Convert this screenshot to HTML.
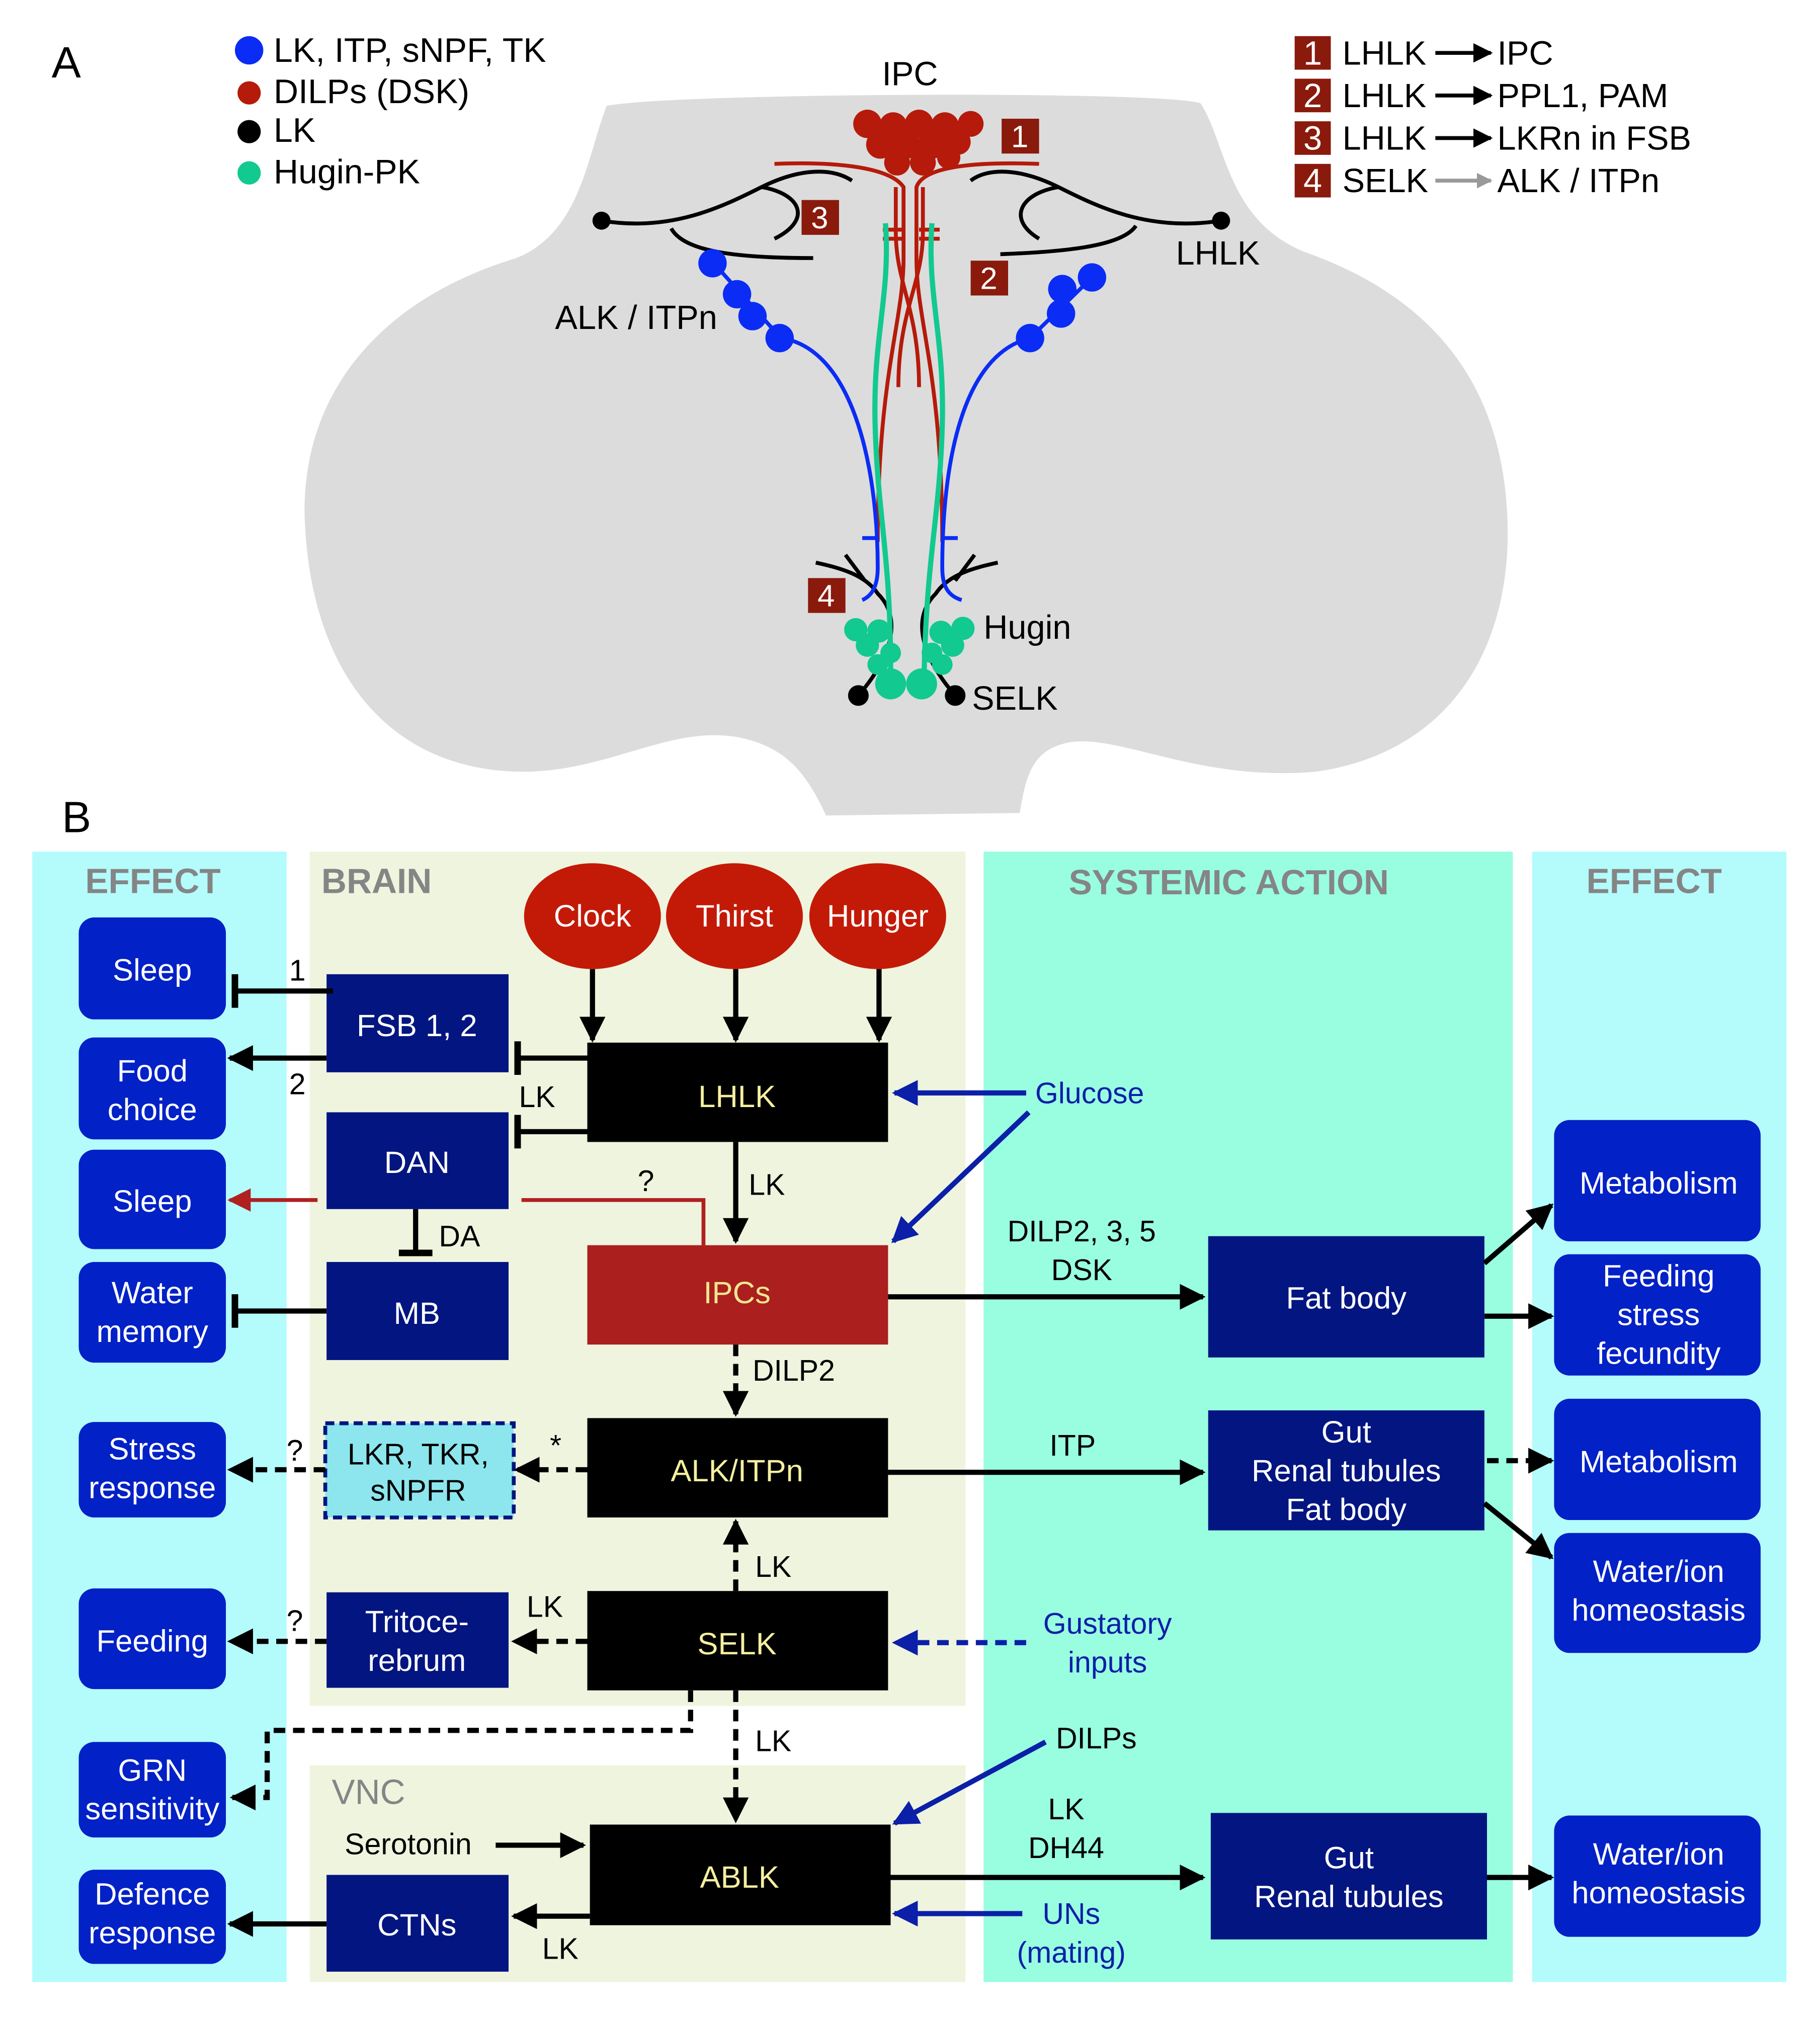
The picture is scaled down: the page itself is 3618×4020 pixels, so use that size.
<!DOCTYPE html>
<html><head><meta charset="utf-8"><style>
html,body{margin:0;padding:0;background:#fff}
svg{display:block}
text{font-family:"Liberation Sans",Arial,sans-serif}
</style></head><body>
<svg width="3618" height="4020" viewBox="0 0 1410 1567" preserveAspectRatio="none" xmlns="http://www.w3.org/2000/svg">
<defs>
<marker id="ab" viewBox="0 0 10 10" refX="9" refY="5" markerWidth="5" markerHeight="5" orient="auto-start-reverse" markerUnits="strokeWidth"><path d="M0,0L10,5L0,10z" fill="#000"/></marker>
<marker id="abl" viewBox="0 0 10 10" refX="9" refY="5" markerWidth="5" markerHeight="5" orient="auto" markerUnits="strokeWidth"><path d="M0,0L10,5L0,10z" fill="#0b1fa8"/></marker>
<marker id="ar" viewBox="0 0 10 10" refX="9" refY="5" markerWidth="6" markerHeight="6" orient="auto" markerUnits="strokeWidth"><path d="M0,0L10,5L0,10z" fill="#b02020"/></marker>
<marker id="ag" viewBox="0 0 10 10" refX="9" refY="5" markerWidth="4" markerHeight="4" orient="auto" markerUnits="strokeWidth"><path d="M0,0L10,5L0,10z" fill="#999"/></marker>
<marker id="tb" viewBox="0 0 4 20" refX="2" refY="10" markerWidth="1.3" markerHeight="7" orient="auto" markerUnits="strokeWidth"><rect x="0" y="0" width="4" height="20" fill="#000"/></marker>
</defs>
<rect width="1410" height="1567" fill="#fff"/>

<!-- PANEL A -->
<text x="40" y="60" font-size="34">A</text>
<path d="M470,82 C520,72 900,70 930,80 C950,110 950,170 1010,195 C1110,230 1170,300 1168,420 C1165,520 1110,585 1020,598 C930,606 870,570 830,575 C800,580 795,600 790,630 L640,632 C625,600 610,580 575,572 C520,560 470,600 400,598 C300,595 240,520 236,400 C234,300 300,230 400,200 C450,180 455,120 470,82 Z" fill="#dcdcdc"/>

<!-- legend -->
<circle cx="193" cy="39" r="11" fill="#0a2cf5"/><text x="212" y="48" font-size="26.5">LK, ITP, sNPF, TK</text>
<circle cx="193" cy="72" r="9" fill="#b51a0a"/><text x="212" y="80" font-size="26.5">DILPs (DSK)</text>
<circle cx="193" cy="102" r="9" fill="#000"/><text x="212" y="110" font-size="26.5">LK</text>
<circle cx="193" cy="134" r="9" fill="#12c98f"/><text x="212" y="142" font-size="26.5">Hugin-PK</text>

<g font-size="26">
<rect x="1003" y="28" width="28" height="26" fill="#8a1a0c"/><text x="1017" y="50" fill="#fff" text-anchor="middle">1</text>
<rect x="1003" y="61" width="28" height="26" fill="#8a1a0c"/><text x="1017" y="83" fill="#fff" text-anchor="middle">2</text>
<rect x="1003" y="94" width="28" height="26" fill="#8a1a0c"/><text x="1017" y="116" fill="#fff" text-anchor="middle">3</text>
<rect x="1003" y="127" width="28" height="26" fill="#8a1a0c"/><text x="1017" y="149" fill="#fff" text-anchor="middle">4</text>
<text x="1040" y="50">LHLK</text><text x="1040" y="83">LHLK</text><text x="1040" y="116">LHLK</text><text x="1040" y="149">SELK</text>
<text x="1160" y="50">IPC</text><text x="1160" y="83">PPL1, PAM</text><text x="1160" y="116">LKRn in FSB</text><text x="1160" y="149">ALK / ITPn</text>
</g>
<g stroke-width="3" fill="none">
<line x1="1112" y1="41" x2="1155" y2="41" stroke="#000" marker-end="url(#ab)"/>
<line x1="1112" y1="74" x2="1155" y2="74" stroke="#000" marker-end="url(#ab)"/>
<line x1="1112" y1="107" x2="1155" y2="107" stroke="#000" marker-end="url(#ab)"/>
<line x1="1112" y1="140" x2="1155" y2="140" stroke="#999" marker-end="url(#ag)"/>
</g>

<text x="705" y="66" font-size="26" text-anchor="middle">IPC</text>
<!-- red IPC paths -->
<g stroke="#b51a0a" stroke-width="3" fill="none">
<path d="M600,127 C650,125 690,130 700,145 L700,200 C700,250 680,290 680,420"/>
<path d="M805,127 C750,125 715,130 710,145 L710,200 C710,250 730,290 730,420"/>
<path d="M694,145 L694,180 C694,220 712,240 712,300"/>
<path d="M715,145 L715,180 C715,220 696,240 696,300"/>
<line x1="684" y1="178" x2="700" y2="178"/><line x1="684" y1="185" x2="700" y2="185"/>
<line x1="712" y1="178" x2="728" y2="178"/><line x1="712" y1="185" x2="728" y2="185"/>
</g>
<g fill="#b51a0a">
<circle cx="672" cy="96" r="11"/><circle cx="692" cy="98" r="11"/><circle cx="712" cy="96" r="11"/><circle cx="732" cy="98" r="11"/><circle cx="752" cy="96" r="10"/>
<circle cx="682" cy="112" r="11"/><circle cx="702" cy="112" r="11"/><circle cx="722" cy="112" r="11"/><circle cx="742" cy="110" r="10"/>
<circle cx="695" cy="126" r="10"/><circle cx="715" cy="126" r="10"/><circle cx="735" cy="122" r="9"/>
</g>
<rect x="776" y="92" width="29" height="27" fill="#8a1a0c"/><text x="790" y="114" font-size="24" fill="#fff" text-anchor="middle">1</text>
<rect x="621" y="155" width="29" height="27" fill="#8a1a0c"/><text x="635" y="177" font-size="24" fill="#fff" text-anchor="middle">3</text>
<rect x="752" y="202" width="29" height="27" fill="#8a1a0c"/><text x="766" y="224" font-size="24" fill="#fff" text-anchor="middle">2</text>
<rect x="626" y="448" width="29" height="27" fill="#8a1a0c"/><text x="640" y="470" font-size="24" fill="#fff" text-anchor="middle">4</text>

<!-- black LK paths -->
<g stroke="#000" stroke-width="3" fill="none">
<path d="M466,171 C520,180 560,160 590,145 C620,130 645,130 660,140"/>
<path d="M520,177 C530,195 570,200 630,200"/>
<path d="M590,145 C620,150 630,170 600,185"/>
<path d="M946,171 C890,180 850,160 820,145 C790,130 765,130 752,140"/>
<path d="M880,175 C870,190 830,195 775,197"/>
<path d="M820,145 C790,150 780,170 805,185"/>
<path d="M665,539 C690,510 700,480 680,460 C670,445 650,440 632,436"/>
<path d="M740,539 C715,510 705,480 725,460 C735,445 755,440 773,436"/>
<path d="M655,430 L670,450"/><path d="M755,430 L740,450"/>
</g>
<circle cx="466" cy="171" r="7" fill="#000"/><circle cx="946" cy="171" r="7" fill="#000"/>
<circle cx="665" cy="539" r="8" fill="#000"/><circle cx="740" cy="539" r="8" fill="#000"/>

<!-- green hugin -->
<g stroke="#12c98f" stroke-width="4" fill="none">
<path d="M686,173 C690,230 676,260 678,330 C680,400 690,430 690,520"/>
<path d="M722,173 C718,230 732,260 730,330 C728,400 718,430 716,520"/>
</g>
<g fill="#12c98f">
<circle cx="663" cy="488" r="9"/><circle cx="681" cy="489" r="9"/><circle cx="672" cy="500" r="9"/><circle cx="690" cy="506" r="8"/><circle cx="680" cy="515" r="8"/>
<circle cx="746" cy="487" r="9"/><circle cx="729" cy="490" r="9"/><circle cx="738" cy="500" r="9"/><circle cx="722" cy="506" r="8"/><circle cx="730" cy="515" r="8"/>
<circle cx="690" cy="530" r="12"/><circle cx="714" cy="530" r="12"/>
</g>
<!-- blue ALK -->
<g stroke="#0a2cf5" stroke-width="3" fill="none">
<path d="M605,262 C660,270 680,360 680,440 C680,455 675,462 668,465"/>
<path d="M798,262 C745,275 730,360 730,440 C730,455 735,462 745,465"/>
<path d="M553,204 L605,262"/><path d="M846,215 L798,262"/>
<line x1="668" y1="417" x2="680" y2="417"/><line x1="730" y1="417" x2="742" y2="417"/>
</g>
<g fill="#0a2cf5">
<circle cx="552" cy="204" r="11"/><circle cx="571" cy="228" r="11"/><circle cx="583" cy="245" r="11"/><circle cx="604" cy="262" r="11"/>
<circle cx="846" cy="215" r="11"/><circle cx="823" cy="224" r="11"/><circle cx="822" cy="243" r="11"/><circle cx="798" cy="262" r="11"/>
</g>
<text x="430" y="255" font-size="26">ALK / ITPn</text>
<text x="911" y="205" font-size="26">LHLK</text>
<text x="762" y="495" font-size="26">Hugin</text>
<text x="753" y="550" font-size="26">SELK</text>

<!-- PANEL B -->
<text x="48" y="645" font-size="34">B</text>
<rect x="25" y="660" width="197" height="876" fill="#b4fbfc"/>
<rect x="1187" y="660" width="197" height="876" fill="#b4fbfc"/>
<rect x="240" y="660" width="508" height="662" fill="#eff4de"/>
<rect x="240" y="1368" width="508" height="168" fill="#eff4de"/>
<rect x="762" y="660" width="410" height="876" fill="#99fde0"/>
<g font-size="27" font-weight="bold" fill="#858585">
<text x="66" y="692">EFFECT</text><text x="249" y="692">BRAIN</text>
<text x="828" y="693">SYSTEMIC ACTION</text><text x="1229" y="692">EFFECT</text>
<text x="257" y="1398" font-weight="normal">VNC</text>
</g>

<!-- effect boxes -->
<g fill="#0221c6">
<rect x="61" y="711" width="114" height="79" rx="12"/><rect x="61" y="804" width="114" height="79" rx="12"/>
<rect x="61" y="891" width="114" height="77" rx="12"/><rect x="61" y="978" width="114" height="78" rx="12"/>
<rect x="61" y="1102" width="114" height="74" rx="12"/><rect x="61" y="1231" width="114" height="78" rx="12"/>
<rect x="61" y="1350" width="114" height="74" rx="12"/><rect x="61" y="1449" width="114" height="73" rx="12"/>
<rect x="1204" y="868" width="160" height="94" rx="12"/><rect x="1204" y="972" width="160" height="94" rx="12"/>
<rect x="1204" y="1084" width="160" height="94" rx="12"/><rect x="1204" y="1188" width="160" height="93" rx="12"/>
<rect x="1204" y="1407" width="160" height="94" rx="12"/>
</g>
<g font-size="24" fill="#fff" text-anchor="middle">
<text x="118" y="760">Sleep</text>
<text x="118" y="838">Food</text><text x="118" y="868">choice</text>
<text x="118" y="939">Sleep</text>
<text x="118" y="1010">Water</text><text x="118" y="1040">memory</text>
<text x="118" y="1131">Stress</text><text x="118" y="1161">response</text>
<text x="118" y="1280">Feeding</text>
<text x="118" y="1380">GRN</text><text x="118" y="1410">sensitivity</text>
<text x="118" y="1476">Defence</text><text x="118" y="1506">response</text>
<text x="1285" y="925">Metabolism</text>
<text x="1285" y="997">Feeding</text><text x="1285" y="1027">stress</text><text x="1285" y="1057">fecundity</text>
<text x="1285" y="1141">Metabolism</text>
<text x="1285" y="1226">Water/ion</text><text x="1285" y="1256">homeostasis</text>
<text x="1285" y="1445">Water/ion</text><text x="1285" y="1475">homeostasis</text>
</g>

<!-- navy boxes -->
<g fill="#021580">
<rect x="253" y="755" width="141" height="76"/><rect x="253" y="862" width="141" height="75"/>
<rect x="253" y="978" width="141" height="76"/><rect x="253" y="1234" width="141" height="74"/>
<rect x="253" y="1453" width="141" height="75"/>
<rect x="936" y="958" width="214" height="94"/><rect x="936" y="1093" width="214" height="93"/>
<rect x="938" y="1405" width="214" height="98"/>
</g>
<rect x="252" y="1103" width="146" height="73" fill="#8de6ee" stroke="#021580" stroke-width="3" stroke-dasharray="7,4"/>
<g font-size="24" fill="#fff" text-anchor="middle">
<text x="323" y="803">FSB 1, 2</text><text x="323" y="909">DAN</text><text x="323" y="1026">MB</text>
<text x="323" y="1265">Tritoce-</text><text x="323" y="1295">rebrum</text><text x="323" y="1500">CTNs</text>
<text x="1043" y="1014">Fat body</text>
<text x="1043" y="1118">Gut</text><text x="1043" y="1148">Renal tubules</text><text x="1043" y="1178">Fat body</text>
<text x="1045" y="1448">Gut</text><text x="1045" y="1478">Renal tubules</text>
</g>
<text x="324" y="1135" font-size="23" text-anchor="middle">LKR, TKR,</text>
<text x="324" y="1163" font-size="23" text-anchor="middle">sNPFR</text>

<!-- central boxes -->
<rect x="455" y="808" width="233" height="77" fill="#000"/>
<rect x="455" y="965" width="233" height="77" fill="#ab1f1f"/>
<rect x="455" y="1099" width="233" height="77" fill="#000"/>
<rect x="455" y="1233" width="233" height="77" fill="#000"/>
<rect x="457" y="1414" width="233" height="78" fill="#000"/>
<g font-size="24" text-anchor="middle" fill="#f5efa0">
<text x="571" y="858">LHLK</text><text x="571" y="1148">ALK/ITPn</text>
<text x="571" y="1282">SELK</text><text x="573" y="1463">ABLK</text>
</g>
<text x="571" y="1010" font-size="24" text-anchor="middle" fill="#f0e890">IPCs</text>

<!-- ellipses -->
<g fill="#c31a08">
<ellipse cx="459" cy="710" rx="53" ry="41"/><ellipse cx="569" cy="710" rx="53" ry="41"/><ellipse cx="680" cy="710" rx="53" ry="41"/>
</g>
<g font-size="24" fill="#fff" text-anchor="middle">
<text x="459" y="718">Clock</text><text x="569" y="718">Thirst</text><text x="680" y="718">Hunger</text>
</g>

<!-- connectors -->
<g stroke="#000" stroke-width="4" fill="none">
<line x1="459" y1="751" x2="459" y2="806" marker-end="url(#ab)"/>
<line x1="570" y1="751" x2="570" y2="806" marker-end="url(#ab)"/>
<line x1="681" y1="751" x2="681" y2="806" marker-end="url(#ab)"/>
<line x1="258" y1="768" x2="182" y2="768" marker-end="url(#tb)"/>
<line x1="253" y1="820" x2="178" y2="820" marker-end="url(#ab)"/>
<line x1="455" y1="820" x2="401" y2="820" marker-end="url(#tb)"/>
<line x1="455" y1="877" x2="401" y2="877" marker-end="url(#tb)"/>
<line x1="322" y1="937" x2="322" y2="971" marker-end="url(#tb)"/>
<line x1="253" y1="1016" x2="182" y2="1016" marker-end="url(#tb)"/>
<line x1="570" y1="885" x2="570" y2="962" marker-end="url(#ab)"/>
<line x1="688" y1="1005" x2="932" y2="1005" marker-end="url(#ab)"/>
<line x1="688" y1="1141" x2="932" y2="1141" marker-end="url(#ab)"/>
<line x1="690" y1="1455" x2="932" y2="1455" marker-end="url(#ab)"/>
<line x1="1150" y1="979" x2="1202" y2="934" marker-end="url(#ab)"/>
<line x1="1150" y1="1020" x2="1202" y2="1020" marker-end="url(#ab)"/>
<line x1="1150" y1="1165" x2="1202" y2="1207" marker-end="url(#ab)"/>
<line x1="1152" y1="1455" x2="1202" y2="1455" marker-end="url(#ab)"/>
<line x1="384" y1="1430" x2="452" y2="1430" marker-end="url(#ab)"/>
<line x1="457" y1="1485" x2="398" y2="1485" marker-end="url(#ab)"/>
<line x1="253" y1="1491" x2="178" y2="1491" marker-end="url(#ab)"/>
</g>
<g stroke="#000" stroke-width="4" fill="none" stroke-dasharray="9,6">
<line x1="570" y1="1042" x2="570" y2="1096" marker-end="url(#ab)"/>
<line x1="570" y1="1233" x2="570" y2="1179" marker-end="url(#ab)"/>
<line x1="570" y1="1310" x2="570" y2="1411" marker-end="url(#ab)"/>
<line x1="455" y1="1139" x2="400" y2="1139" marker-end="url(#ab)"/>
<line x1="252" y1="1139" x2="178" y2="1139" marker-end="url(#ab)"/>
<line x1="455" y1="1272" x2="398" y2="1272" marker-end="url(#ab)"/>
<line x1="253" y1="1272" x2="178" y2="1272" marker-end="url(#ab)"/>
<path d="M535,1310 L535,1341 L207,1341 L207,1393 L180,1393" marker-end="url(#ab)"/>
<line x1="1152" y1="1132" x2="1202" y2="1132" marker-end="url(#ab)"/>
</g>
<g stroke="#b02020" stroke-width="3" fill="none">
<line x1="246" y1="930" x2="178" y2="930" marker-end="url(#ar)"/>
<path d="M404,930 L545,930 L545,965"/>
</g>
<g stroke="#0b1fa8" stroke-width="4" fill="none">
<line x1="795" y1="847" x2="693" y2="847" marker-end="url(#abl)"/>
<line x1="797" y1="862" x2="692" y2="962" marker-end="url(#abl)"/>
<line x1="810" y1="1350" x2="693" y2="1413" marker-end="url(#abl)"/>
<line x1="792" y1="1483" x2="693" y2="1483" marker-end="url(#abl)"/>
<line x1="795" y1="1273" x2="693" y2="1273" stroke-dasharray="9,6" marker-end="url(#abl)"/>
</g>

<!-- labels -->
<g font-size="23" fill="#000">
<text x="224" y="760">1</text><text x="224" y="848">2</text>
<text x="402" y="858">LK</text>
<text x="340" y="966">DA</text>
<text x="494" y="923">?</text>
<text x="580" y="926">LK</text>
<text x="583" y="1070">DILP2</text>
<text x="585" y="1222">LK</text>
<text x="585" y="1357">LK</text>
<text x="408" y="1253">LK</text>
<text x="420" y="1518">LK</text>
<text x="426" y="1128">*</text>
<text x="222" y="1132">?</text><text x="222" y="1264">?</text>
<text x="267" y="1437">Serotonin</text>
<text x="838" y="962" text-anchor="middle">DILP2, 3, 5</text>
<text x="838" y="992" text-anchor="middle">DSK</text>
<text x="831" y="1128" text-anchor="middle">ITP</text>
<text x="826" y="1410" text-anchor="middle">LK</text>
<text x="826" y="1440" text-anchor="middle">DH44</text>
<text x="818" y="1355">DILPs</text>
</g>
<g font-size="23" fill="#0b1fa8">
<text x="802" y="855">Glucose</text>
<text x="858" y="1266" text-anchor="middle">Gustatory</text>
<text x="858" y="1296" text-anchor="middle">inputs</text>
<text x="830" y="1491" text-anchor="middle">UNs</text>
<text x="830" y="1521" text-anchor="middle">(mating)</text>
</g>
</svg>
</body></html>
